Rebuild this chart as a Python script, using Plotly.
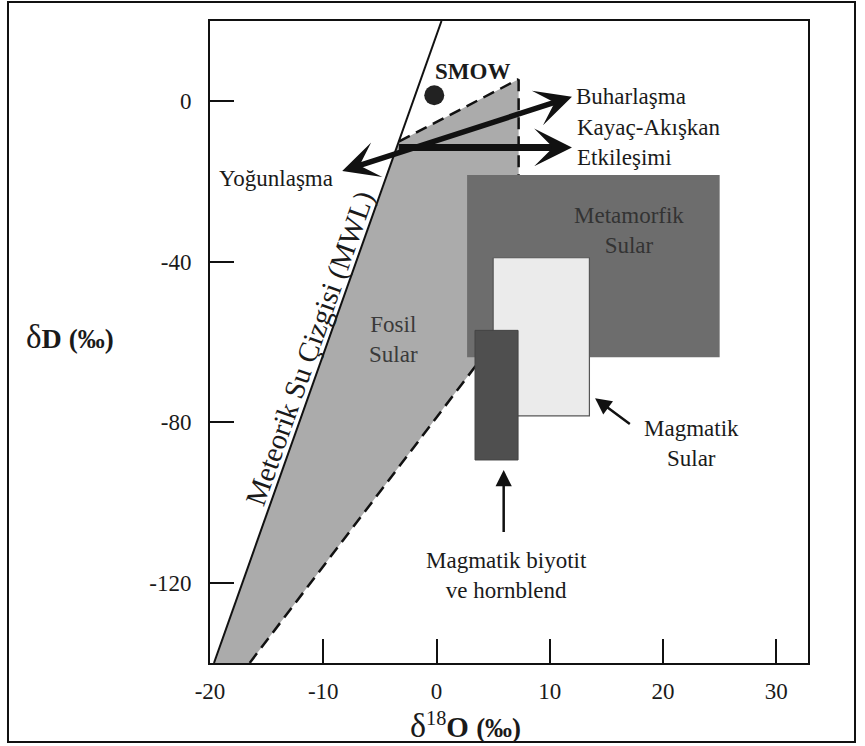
import plotly.graph_objects as go

# ---- data ----
x_ticks = [-20, -10, 0, 10, 20, 30]
x_tick_text = ["-20", "-10", "0", "10", "20", "30"]
y_ticks = [0, -40, -80, -120]
y_tick_text = ["0", "-40", "-80", "-120"]

mwl_x = [-19.65, 0.44]
mwl_y = [-140, 20]

fossil_x = [-3.3, 7.25, 7.25, 3.45, -16.5, -19.65]
fossil_y = [-10, 5.5, -64, -66, -140, -140]

upper_dash_x = [-3.3, 7.25]
upper_dash_y = [-10, 5.5]
vert_dash_x = [7.25, 7.25]
vert_dash_y = [5.5, -18.4]
lower_dash_x = [3.45, -16.5]
lower_dash_y = [-66, -140]

meta_x = [2.7, 25.0]
meta_y = [-18.4, -63.8]
magm_x = [5.0, 13.5]
magm_y = [-39.0, -78.4]
biot_x = [3.4, 7.2]
biot_y = [-57.1, -89.4]

smow_x = [-0.2]
smow_y = [1.5]

# arrows: (tail_x, tail_y, head_x, head_y)
arrow_diag = (-8.46, -17.5, 11.96, 1.1)
arrow_horiz = (-3.46, -11.5, 11.96, -11.5)
arrow_magm = (17.2, -80.7, 14.0, -74.0)
arrow_biot = (5.93, -107.7, 5.93, -91.9)

FONT = "Liberation Serif, 'Times New Roman', serif"


def rect(xs, ys):
    return [xs[0], xs[1], xs[1], xs[0], xs[0]], [ys[0], ys[0], ys[1], ys[1], ys[0]]


fig = go.Figure()

fig.add_trace(go.Scatter(x=fossil_x + [fossil_x[0]], y=fossil_y + [fossil_y[0]],
                         fill="toself", fillcolor="#ababab", mode="lines",
                         line=dict(width=0), hoverinfo="skip"))

for xs, ys in [(upper_dash_x, upper_dash_y), (vert_dash_x, vert_dash_y), (lower_dash_x, lower_dash_y)]:
    fig.add_trace(go.Scatter(x=xs, y=ys, mode="lines",
                             line=dict(color="#111", width=2.5, dash="12px,7px")))

mx, my = rect(meta_x, meta_y)
fig.add_trace(go.Scatter(x=mx, y=my, fill="toself", fillcolor="#6d6d6d", mode="lines",
                         line=dict(width=0)))
gx, gy = rect(magm_x, magm_y)
fig.add_trace(go.Scatter(x=gx, y=gy, fill="toself", fillcolor="#ebebeb", mode="lines",
                         line=dict(width=1.2, color="#555")))
bx, by = rect(biot_x, biot_y)
fig.add_trace(go.Scatter(x=bx, y=by, fill="toself", fillcolor="#4f4f4f", mode="lines",
                         line=dict(width=1, color="#444")))

fig.add_trace(go.Scatter(x=mwl_x, y=mwl_y, mode="lines", line=dict(color="#111", width=2)))

fig.add_trace(go.Scatter(x=smow_x, y=smow_y, mode="markers",
                         marker=dict(size=20, color="#222")))

annotations = []


def arrow(a, width, head, size, both=False):
    d = dict(x=a[2], y=a[3], ax=a[0], ay=a[1], xref="x", yref="y", axref="x", ayref="y",
             text="", showarrow=True, arrowhead=head, arrowsize=size, arrowwidth=width,
             arrowcolor="#111", standoff=0, startstandoff=0)
    if both:
        d.update(arrowside="end+start", startarrowhead=head, startarrowsize=size)
    return d


annotations.append(arrow(arrow_diag, 5.5, 3, 1.1, both=True))
annotations.append(arrow(arrow_horiz, 7, 3, 0.9))
annotations.append(arrow(arrow_magm, 2.5, 2, 1.3))
annotations.append(arrow(arrow_biot, 2.5, 2, 1.3))


def label(text, x, y, size=23, color="#1a1a1a", xanchor="center", align="center", angle=0):
    return dict(text=text, x=x, y=y, xref="x", yref="y", showarrow=False,
                font=dict(family=FONT, size=size, color=color),
                xanchor=xanchor, yanchor="middle", align=align, textangle=angle)


annotations += [
    label("<b>SMOW</b>", 3.2, 7.3, size=23),
    label("Buharlaşma", 12.1, 1.1, xanchor="left", align="left"),
    label("Kayaç-Akışkan<br>Etkileşimi", 12.2, -10.4, xanchor="left", align="left"),
    label("Yoğunlaşma", -9.0, -19.3, xanchor="right", align="right"),
    label("Metamorfik<br>Sular", 17.0, -32.1, color="#333"),
    label("Fosil<br>Sular", -3.8, -59.4, color="#3a3a3a"),
    label("Magmatik<br>Sular", 22.5, -85.4),
    label("Magmatik biyotit<br>ve hornblend", 6.2, -118.1),
    label("Meteorik Su Çizgisi (MWL)", -11.2, -61.5, size=29, angle=-70.4),
]

annotations.append(dict(
    text="<span style='font-size:33px'>δ</span><b>D <span style='font-size:27px'>(‰)</span></b>",
    x=-0.234, y=0.508, xref="paper", yref="paper", showarrow=False,
    font=dict(family=FONT, size=28, color="#1a1a1a"),
    xanchor="center", yanchor="middle"))
annotations.append(dict(
    text="<span style='font-size:34px'>δ</span><sup>18</sup><b>O <span style='font-size:27px'>(‰)</span></b>",
    x=2.56, y=-0.098, xref="x", yref="paper", showarrow=False,
    font=dict(family=FONT, size=29, color="#1a1a1a"),
    xanchor="center", yanchor="middle"))

axis_common = dict(showgrid=False, zeroline=False, showline=True, linewidth=2,
                   linecolor="#111", mirror=True, ticks="inside", ticklen=24,
                   tickwidth=2, tickcolor="#111",
                   tickfont=dict(family=FONT, size=23, color="#1a1a1a"))

fig.update_layout(
    width=865, height=746,
    margin=dict(l=210, r=57, t=21, b=83),
    paper_bgcolor="white", plot_bgcolor="white",
    showlegend=False,
    xaxis=dict(range=[-20, 32.8], tickvals=x_ticks, ticktext=x_tick_text,
               ticklabelstandoff=6, **axis_common),
    yaxis=dict(range=[-140, 20], tickvals=y_ticks, ticktext=y_tick_text,
               ticklabelstandoff=12, **axis_common),
    annotations=annotations,
    shapes=[dict(type="rect", xref="paper", yref="paper",
                 x0=-0.3378, x1=1.0786, y0=-0.1231, y1=1.0296,
                 line=dict(color="#111", width=2))],
)

fig.write_html("out.html", config={"displayModeBar": False},
               post_script="document.body.style.margin='0px';")
